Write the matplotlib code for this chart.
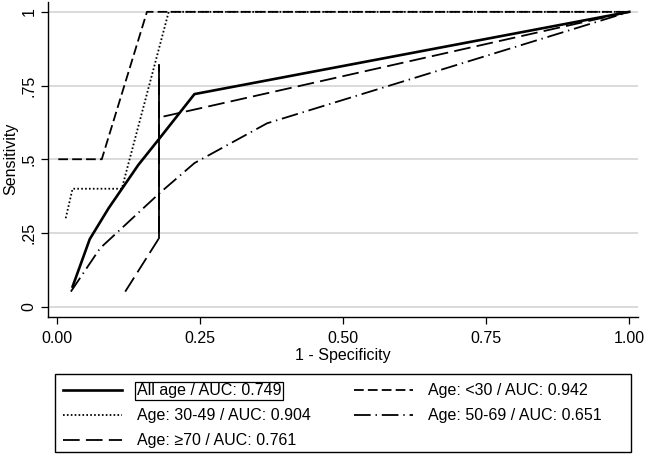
import numpy as np
import matplotlib
matplotlib.use("Agg")
import matplotlib.pyplot as plt
from matplotlib.patches import Rectangle

plt.rcParams['font.family'] = ['Liberation Sans', 'DejaVu Sans']
plt.rcParams['lines.scale_dashes'] = False

# Data (1 - specificity, sensitivity)
all_x = [0.027, 0.057, 0.090, 0.142, 0.177, 0.240, 1.0]
all_y = [0.068, 0.229, 0.334, 0.481, 0.566, 0.721, 1.0]

lt30_x = [0.002, 0.078, 0.157, 1.0]
lt30_y = [0.50, 0.50, 1.0, 1.0]

a3049_x = [0.015, 0.027, 0.113, 0.195, 1.0]
a3049_y = [0.30, 0.40, 0.40, 1.0, 1.0]

a5069_x = [0.024, 0.075, 0.179, 0.240, 0.367, 1.0]
a5069_y = [0.051, 0.198, 0.385, 0.487, 0.622, 1.0]

ge70_x = [0.119, 0.178, 0.178, np.nan, 0.186, 1.0]
ge70_y = [0.051, 0.232, 0.820, np.nan, 0.645, 1.0]

labels = ["All age / AUC: 0.749", "Age: <30 / AUC: 0.942", "Age: 30-49 / AUC: 0.904",
          "Age: 50-69 / AUC: 0.651", "Age: \u226570 / AUC: 0.761"]
xticks = [0.0, 0.25, 0.5, 0.75, 1.0]
xticklabels = ["0.00", "0.25", "0.50", "0.75", "1.00"]
yticks = [0, 0.25, 0.5, 0.75, 1]
yticklabels = ["0", ".25", ".5", ".75", "1"]

W, H = 646, 455
fig = plt.figure(figsize=(W / 100, H / 100), dpi=100)
ax = fig.add_axes([0.074, 0.304, 0.914, 0.692])

ax.set_xlim(-0.0163, 1.0157)
ax.set_ylim(-0.034, 1.034)

for y in yticks:
    ax.axhline(y, color='#d4d4d4', lw=1.2, zorder=0)

lw_main = 1.9
lw = 1.3
h_all, = ax.plot(all_x, all_y, color='black', lw=lw_main, solid_joinstyle='miter', label=labels[0])
h30, = ax.plot(lt30_x, lt30_y, color='black', lw=lw, dashes=(7.0, 3.0), label=labels[1])
h3049, = ax.plot(a3049_x, a3049_y, color='black', lw=lw, dashes=(1.2, 1.6), label=labels[2])
h5069, = ax.plot(a5069_x, a5069_y, color='black', lw=lw, dashes=(12.0, 3.5, 1.0, 3.5), label=labels[3])
ge70_xa = np.array(ge70_x); ge70_ya = np.array(ge70_y)
h70, = ax.plot(ge70_xa, ge70_ya, color='black', lw=lw, dashes=(12.0, 4.5), label=labels[4])
ax.plot(ge70_xa[1:3], ge70_ya[1:3], color='black', lw=lw)

fs = 11.5
ax.set_xticks(xticks)
ax.set_xticklabels(xticklabels, fontsize=fs)
ax.set_yticks(yticks)
ax.set_yticklabels(yticklabels, fontsize=fs, rotation=90, va='center')
ax.tick_params(direction='out', length=5, width=0.9, color='black')
ax.tick_params(axis='x', pad=5)
ax.tick_params(axis='y', pad=3)
for s in ['top', 'right']:
    ax.spines[s].set_visible(False)
for s in ['left', 'bottom']:
    ax.spines[s].set_linewidth(1.0)

ax.set_xlabel("1 - Specificity", fontsize=fs, labelpad=1.5)
ax.set_ylabel("Sensitivity", fontsize=fs, labelpad=2.5)

# legend frame (drawn separately to match its fixed size)
fig.patches.append(Rectangle((55 / W, 1 - 452.3 / H), (630.7 - 55) / W, (452.3 - 374.3) / H,
                             transform=fig.transFigure, fill=False, edgecolor='black',
                             lw=1.0))

lfs = 11.5
em = lfs * 100 / 72
handles = [h_all, h3049, h70, h30, h5069]
leg = fig.legend(handles=handles, labels=[h.get_label() for h in handles],
                 loc='upper left', bbox_to_anchor=(62.7 / W, 1 - 383.5 / H),
                 ncol=2, fontsize=lfs, frameon=False,
                 handlelength=59 / em, handletextpad=15 / em,
                 columnspacing=2.0,
                 borderaxespad=0.0, labelspacing=0.62, borderpad=0.0)
leg.get_texts()[0].set_bbox(dict(facecolor='none', edgecolor='black', lw=0.9, pad=1.0))

# adjust column separation so the second column's text starts at x=427px
for _ in range(3):
    fig.canvas.draw()
    x0 = leg.get_texts()[3].get_window_extent().x0
    leg._legend_handle_box.sep += (427.3 - x0)
fig.savefig("out.png", dpi=100)
